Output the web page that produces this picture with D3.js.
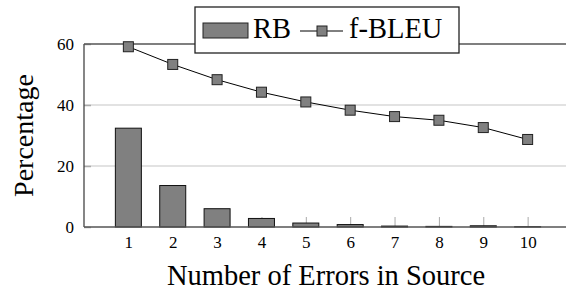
<!DOCTYPE html>
<head>
  <title>RB and f-BLEU by number of errors</title>
  <script src="https://cdn.jsdelivr.net/npm/d3@7"></script>
  <style>
    body { margin: 0; background: #fff; }
    text { font-family: "Liberation Serif", "Times New Roman", serif; fill: #000; }
  </style>
</head>
<body>
  <svg id="chart" width="566" height="290"></svg>
  <script>
    // number of errors in the source sentence
    const errors = [1, 2, 3, 4, 5, 6, 7, 8, 9, 10];
    // RB percentage (bars)
    const rbValues = [32.4, 13.6, 6.0, 2.8, 1.3, 0.8, 0.3, 0.2, 0.4, 0.1];
    // f-BLEU (line with square markers)
    const fbleuValues = [59.1, 53.3, 48.3, 44.2, 41.0, 38.3, 36.2, 35.0, 32.6, 28.7];
    const yTicks = [0, 20, 40, 60];

    const svg = d3.select("svg#chart");
    const plotLeft = 84, plotRight = 572, plotTop = 44, plotBottom = 227;

    var x = d3.scalePoint().domain(errors).range([plotLeft, plotRight]).padding(1);
    var y = d3.scaleLinear().domain([0, 60]).range([plotBottom, plotTop]);

    // grid lines
    svg.append("g")
      .selectAll("line")
      .data([20, 40])
      .enter()
      .append("line")
      .attr("x1", plotLeft).attr("x2", 566)
      .attr("y1", d => y(d)).attr("y2", d => y(d))
      .attr("stroke", "#d8d8d8").attr("stroke-width", 1.5);

    // y axis
    const yAxis = svg.append("g")
      .attr("transform", "translate(" + plotLeft + ",0)")
      .call(d3.axisLeft(y).tickValues(yTicks).tickSize(-7).tickPadding(10));
    yAxis.select(".domain").remove();
    yAxis.selectAll(".tick line").attr("stroke", "#aaa").attr("stroke-width", 1.5);
    yAxis.selectAll("text")
      .attr("font-size", 17)
      .attr("font-family", "Liberation Serif, serif")
      .attr("fill", "#000");

    // x axis ticks (drawn upwards from the bottom)
    const xAxis = svg.append("g")
      .attr("transform", "translate(0," + plotBottom + ")")
      .call(d3.axisBottom(x).tickSize(-10).tickPadding(9));
    xAxis.select(".domain").remove();
    xAxis.selectAll(".tick line").attr("stroke", "#aaa").attr("stroke-width", 1);
    xAxis.selectAll("text")
      .attr("font-size", 17)
      .attr("font-family", "Liberation Serif, serif")
      .attr("fill", "#000");

    // bars
    const barW = 26;
    svg.append("g")
      .selectAll("rect")
      .data(errors)
      .enter()
      .append("rect")
      .attr("x", (d) => x(d) - barW / 2)
      .attr("y", (d, i) => y(rbValues[i]))
      .attr("width", barW)
      .attr("height", (d, i) => plotBottom - y(rbValues[i]))
      .attr("fill", "#808080")
      .attr("stroke", "#111")
      .attr("stroke-width", 1);

    // frame lines (left, top, bottom)
    svg.append("line").attr("x1", plotLeft).attr("x2", plotLeft).attr("y1", plotTop).attr("y2", plotBottom)
      .attr("stroke", "#444").attr("stroke-width", 1.3);
    svg.append("line").attr("x1", plotLeft).attr("x2", 566).attr("y1", plotTop).attr("y2", plotTop)
      .attr("stroke", "#555").attr("stroke-width", 1.3);
    svg.append("line").attr("x1", plotLeft).attr("x2", 566).attr("y1", plotBottom).attr("y2", plotBottom)
      .attr("stroke", "#555").attr("stroke-width", 1.3);

    // f-BLEU line
    const line = d3.line()
      .x((d) => x(d))
      .y((d, i) => y(fbleuValues[i]));
    svg.append("path")
      .datum(errors)
      .attr("fill", "none")
      .attr("stroke", "#000")
      .attr("stroke-width", 1)
      .attr("d", line);

    const mk = 10;
    svg.append("g")
      .selectAll("rect")
      .data(errors)
      .enter()
      .append("rect")
      .attr("x", (d) => x(d) - mk / 2)
      .attr("y", (d, i) => y(fbleuValues[i]) - mk / 2)
      .attr("width", mk)
      .attr("height", mk)
      .attr("fill", "#808080")
      .attr("stroke", "#222")
      .attr("stroke-width", 1);

    // axis titles
    svg.append("text")
      .attr("x", 326).attr("y", 285)
      .attr("text-anchor", "middle")
      .attr("font-size", 28.5)
      .text("Number of Errors in Source");
    svg.append("text")
      .attr("transform", "translate(33," + (plotTop + plotBottom) / 2 + ")rotate(-90)")
      .attr("text-anchor", "middle")
      .attr("font-size", 28)
      .text("Percentage");

    // legend
    const lg = svg.append("g");
    lg.append("rect")
      .attr("x", 195).attr("y", 7).attr("width", 264).attr("height", 46)
      .attr("fill", "#fff").attr("stroke", "#222").attr("stroke-width", 1.3);
    lg.append("rect")
      .attr("x", 203).attr("y", 23).attr("width", 45).attr("height", 15)
      .attr("fill", "#808080").attr("stroke", "#222").attr("stroke-width", 1);
    lg.append("text").attr("x", 253).attr("y", 38).attr("font-size", 28.5).text("RB");
    lg.append("line").attr("x1", 300).attr("x2", 343).attr("y1", 31).attr("y2", 31)
      .attr("stroke", "#000").attr("stroke-width", 1);
    lg.append("rect")
      .attr("x", 322 - mk / 2).attr("y", 31 - mk / 2).attr("width", mk).attr("height", mk)
      .attr("fill", "#808080").attr("stroke", "#222").attr("stroke-width", 1);
    lg.append("text").attr("x", 349).attr("y", 38).attr("font-size", 28.5).text("f-BLEU");
  </script>
</body>
